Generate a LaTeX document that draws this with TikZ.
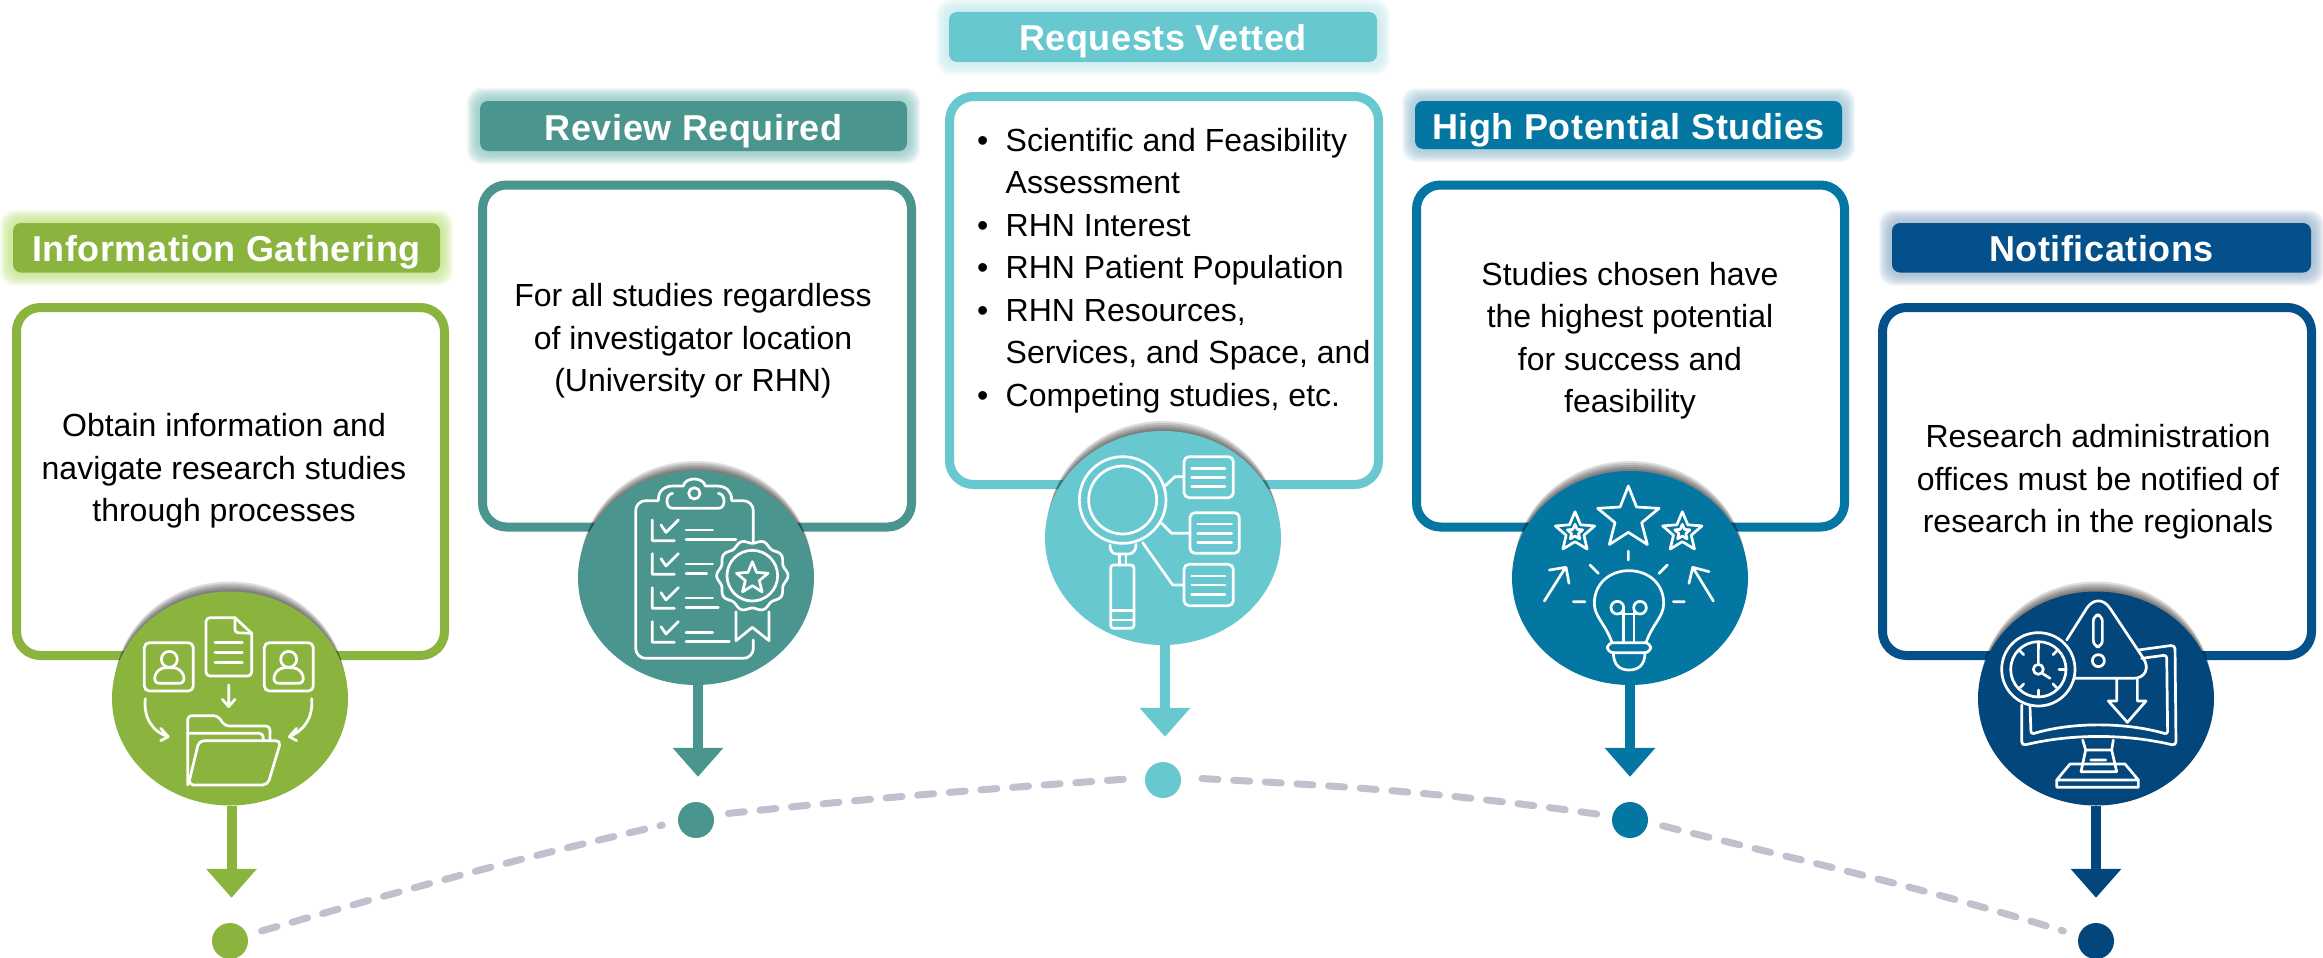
\documentclass[tikz,border=0pt]{standalone}
\usepackage{fontspec}
\setmainfont{Liberation Sans}
\usetikzlibrary{arrows.meta,shapes.geometric}
\definecolor{cgreen}{HTML}{8BB43F}
\definecolor{cteal}{HTML}{4B958F}
\definecolor{ccyan}{HTML}{67C8D0}
\definecolor{cblue}{HTML}{0376A1}
\definecolor{cnavy}{HTML}{03508A}
\definecolor{cnavyb}{HTML}{03467B}
\definecolor{gline}{HTML}{BFC1CE}
\definecolor{ggreen}{HTML}{C4E585}
\definecolor{gteal}{HTML}{8CC8C2}
\definecolor{gcyan}{HTML}{C8EBEF}
\definecolor{gblue}{HTML}{9CC3D6}
\definecolor{gnavy}{HTML}{9AB6CE}
\tikzset{
  titlebar/.style={rounded corners=8pt,inner sep=0pt,text=white,text height=34pt,text depth=6pt,
    font=\fontsize{36pt}{42pt}\selectfont\bfseries\addfontfeatures{LetterSpace=1.6}},
  stepbox/.style={rectangle,rounded corners=24pt,line width=9pt,fill=white,inner sep=0pt},
  bodytext/.style={align=center,inner sep=0pt,text=black,font=\fontsize{32pt}{42.5pt}\selectfont},
  listtext/.style={align=left,inner sep=0pt,text=black,font=\fontsize{32pt}{42.5pt}\selectfont},
  disc/.style={ellipse,inner sep=0pt,minimum width=236pt,minimum height=214pt},
  dotnode/.style={circle,inner sep=0pt,minimum size=36pt},
  drop/.style={-{Triangle[width=49pt,length=29pt]},line width=10pt,shorten >=25pt},
  dashline/.style={draw=gline,line width=7pt,line cap=round,dash pattern=on 16pt off 15.7pt},
  icon/.style={draw=white,line width=2.7pt,line cap=round,line join=round},
  iconarea/.style={x=0.33333pt,y=-0.33333pt}
}
\newcommand{\barglow}[6]{% cx cy w h color name
  \foreach \m in {13,12,...,2}{
    \fill[#5,opacity=.11,rounded corners=14pt] (#1-#3/2-\m,#2-#4/2-\m) rectangle (#1+#3/2+\m,#2+#4/2+\m);
  }
}
\newcommand{\discshadow}[2]{% cx cy
  \foreach \m in {2,4,6,8,10}{
    \fill[black,opacity=.13] (#1,#2-\m) ellipse ({118-\m/4} and {107});
  }
}
\newcommand{\starpath}[4]{%
  \draw[icon] plot[domain=0:360,samples=11] ({#1+(#4+(#3-#4)*(1+cos(5*\x))/2)*sin(\x)},{#2-(#4+(#3-#4)*(1+cos(5*\x))/2)*cos(\x)}) -- cycle;
}
\begin{document}
\begin{tikzpicture}[x=1pt,y=-1pt]
\useasboundingbox (0,0) rectangle (2323,958);
\fill[white] (0,0) rectangle (2323,958);

% dashed arc
\node[dotnode,fill=cgreen] (d1) at (230,941) {};
\node[dotnode,fill=cteal] (d2) at (696,820) {};
\node[dotnode,fill=ccyan] (d3) at (1163,780) {};
\node[dotnode,fill=cblue] (d4) at (1630,820) {};
\node[dotnode,fill=cnavyb] (d5) at (2096,941) {};
\draw[dashline,shorten <=15pt,shorten >=16pt] (d1.19) to[out=16,in=193] (d2.185);
\draw[dashline,shorten <=15pt,shorten >=17pt] (d2.16) to[out=6,in=184] (d3.173);
\draw[dashline,shorten <=21pt,shorten >=15pt] (d3.8) to[out=-3,in=172] (d4.168);
\draw[dashline,shorten <=15pt,shorten >=16pt] (d4.-7) to[out=-14,in=163] (d5.163);

% title bars
\barglow{226.5}{247.75}{427}{49.5}{ggreen}{t1}
\node[titlebar,fill=cgreen,minimum width=427pt,minimum height=49.5pt] (t1) at (226.5,247.75) {Information Gathering};
\barglow{693.5}{126}{427}{50}{gteal}{t2}
\node[titlebar,fill=cteal,minimum width=427pt,minimum height=50pt] (t2) at (693.5,126) {Review Required};
\barglow{1163}{37}{428}{50}{gcyan}{t3}
\node[titlebar,fill=ccyan,minimum width=428pt,minimum height=50pt] (t3) at (1163,37) {Requests Vetted};
\barglow{1628.5}{125}{427}{48}{gblue}{t4}
\node[titlebar,fill=cblue,minimum width=427pt,minimum height=48pt] (t4) at (1628.5,125) {High Potential Studies};
\barglow{2101.5}{247.75}{419}{49.5}{gnavy}{t5}
\node[titlebar,fill=cnavy,minimum width=419pt,minimum height=49.5pt] (t5) at (2101.5,247.75) {Notifications};

% boxes
\node[stepbox,draw=cgreen,minimum width=428pt,minimum height=348pt] (b1) at (230.5,481.5) {};
\node[stepbox,draw=cteal,minimum width=429pt,minimum height=342pt] (b2) at (697,356) {};
\node[stepbox,draw=ccyan,minimum width=429pt,minimum height=388pt] (b3) at (1164,290.5) {};
\node[stepbox,draw=cblue,minimum width=428pt,minimum height=342pt] (b4) at (1630.5,356) {};
\node[stepbox,draw=cnavy,minimum width=429pt,minimum height=348pt] (b5) at (2097,481.5) {};

% texts
\node[bodytext] (x1) at (224,471) {Obtain information and\\navigate research studies\\through processes};
\node[bodytext] (x2) at (693,341) {For all studies regardless\\of investigator location\\(University or RHN)};
\node[listtext,anchor=west] (x3) at (977,270.3) {\makebox[28.5pt][l]{•}Scientific and Feasibility\\\hspace*{28.5pt}Assessment\\\makebox[28.5pt][l]{•}RHN Interest\\\makebox[28.5pt][l]{•}RHN Patient Population\\\makebox[28.5pt][l]{•}RHN Resources,\\\hspace*{28.5pt}Services, and Space, and\\\makebox[28.5pt][l]{•}Competing studies, etc.};
\node[bodytext] (x4) at (1630,340.7) {Studies chosen have\\the highest potential\\for success and\\feasibility};
\node[bodytext] (x5) at (2098,482) {Research administration\\offices must be notified of\\research in the regionals};

% discs
\discshadow{230}{698.5}
\node[disc,fill=cgreen] (c1) at (230,698.5) {};
\discshadow{696}{578}
\node[disc,fill=cteal] (c2) at (696,578) {};
\discshadow{1163}{538}
\node[disc,fill=ccyan] (c3) at (1163,538) {};
\discshadow{1630}{578}
\node[disc,fill=cblue] (c4) at (1630,578) {};
\discshadow{2096}{698.5}
\node[disc,fill=cnavyb] (c5) at (2096,698.5) {};

% arrows
\draw[drop,cgreen] ([xshift=1.5pt]c1.south) -- ([xshift=1.5pt]d1.north);
\draw[drop,cteal] ([xshift=2pt]c2.south) -- ([xshift=2pt]d2.north);
\draw[drop,ccyan] ([xshift=2pt]c3.south) -- ([xshift=2pt]d3.north);
\draw[drop,cblue] (c4.south) -- (d4.north);
\draw[drop,cnavyb] (c5.south) -- (d5.north);

% icon 1: folder
\begin{scope}[shift={(120,600)},iconarea]
\draw[icon,rounded corners=5pt] (73,128) rectangle (220,273);
\draw[icon,rounded corners=5pt] (433,128) rectangle (580,273);
\foreach \cx in {148,506}{
  \draw[icon] (\cx,178) circle (24);
  \draw[icon] (\cx-30,250) .. controls (\cx-55,250) and (\cx-45,205) .. (\cx-12,203) -- (\cx+12,203) .. controls (\cx+45,205) and (\cx+55,250) .. (\cx+30,250) -- cycle;
}
\draw[icon,rounded corners=4pt] (345,53) -- (258,53) -- (258,228) -- (395,228) -- (395,100);
\draw[icon] (345,53) -- (395,100);
\draw[icon,rounded corners=3pt] (345,53) -- (345,98) -- (395,100);
\draw[icon] (285,128) -- (367,128) (285,158) -- (367,158) (285,188) -- (367,188);
\draw[icon] (326,255) -- (326,318) (307,298) -- (326,320) -- (345,298);
\draw[icon] (76,296) .. controls (70,350) and (95,395) .. (145,410) (122,385) -- (145,410) -- (122,422);
\draw[icon] (575,296) .. controls (580,350) and (555,390) .. (508,410) (530,385) -- (508,410) -- (530,422);
\draw[icon,rounded corners=4pt] (203,555) -- (203,347) -- (293,347) -- (315,378) -- (450,378) -- (450,422);
\draw[icon,rounded corners=4pt] (203,400) -- (430,400) -- (430,422);
\draw[icon,rounded corners=5pt] (205,555) -- (237,422) -- (483,422) -- (443,555) -- cycle;
\end{scope}

% icon 2: clipboard
\begin{scope}[shift={(590,470)},iconarea]
\draw[icon,rounded corners=10pt] (490,215) -- (490,92) -- (425,92) (205,92) -- (137,92) -- (137,565) -- (490,565) -- (490,510);
\draw[icon] (205,90) .. controls (205,60) and (225,48) .. (250,48) -- (280,48) .. controls (285,20) and (340,20) .. (346,48) -- (380,48) .. controls (410,48) and (425,65) .. (425,90);
\draw[icon] (248,70) .. controls (225,72) and (225,115) .. (248,115) -- (385,115) .. controls (408,115) and (408,72) .. (385,70);
\draw[icon] (313,70) circle (17);
\foreach \dy in {0,101,203,305}{
  \draw[icon] (187,150+\dy) -- (187,212+\dy) -- (253,212+\dy) (213,165+\dy) -- (228,187+\dy) -- (265,150+\dy);
}
\draw[icon] (288,180) -- (368,180) (288,208) -- (438,208) (288,282) -- (368,282) (288,310) -- (350,310) (288,384) -- (368,384) (288,412) -- (385,412) (288,487) -- (368,487) (288,515) -- (418,515);
\draw[icon,fill=cteal] plot[domain=0:360,samples=121,smooth] ({487+(102+5*cos(10*\x))*cos(\x)},{317+(102+5*cos(10*\x))*sin(\x)}) -- cycle;
\draw[icon] (487,317) circle (76);
\starpath{487}{325}{50}{22}
\draw[icon] (438,425) -- (438,512) -- (487,472) -- (537,512) -- (537,425);
\end{scope}

% icon 3: magnifier
\begin{scope}[shift={(1050,450)},iconarea]
\draw[icon] (218,150) circle (130) (218,150) circle (102);
\draw[icon] (180,285) .. controls (180,305) and (190,312) .. (200,312) -- (235,312) .. controls (250,312) and (258,300) .. (258,283);
\draw[icon] (208,315) -- (208,345) (228,315) -- (228,345);
\draw[icon,rounded corners=3pt] (182,345) rectangle (252,535);
\draw[icon] (182,482) -- (252,482) (182,510) -- (252,510);
\draw[icon] (345,108) -- (375,80) -- (400,80) (335,220) -- (365,250) -- (420,250) (278,278) -- (368,405) -- (400,405);
\draw[icon,rounded corners=5pt] (402,20) rectangle (550,143) (420,188) rectangle (568,310) (402,343) rectangle (550,467);
\draw[icon] (425,55) -- (525,55) (425,82) -- (525,82) (425,110) -- (525,110) (443,222) -- (545,222) (443,250) -- (545,250) (443,277) -- (545,277) (425,378) -- (525,378) (425,405) -- (525,405) (425,433) -- (525,433);
\end{scope}

% icon 4: bulb
\begin{scope}[shift={(1510,470)},iconarea]
\starpath{355}{145}{97}{42}
\starpath{195}{187}{62}{28}
\starpath{195}{187}{24}{11}
\starpath{517}{187}{62}{28}
\starpath{517}{187}{24}{11}
\draw[icon] (355,243) -- (355,270) (240,285) -- (265,310) (472,285) -- (447,310) (190,395) -- (225,395) (490,395) -- (523,395);
\draw[icon] (103,393) -- (165,295) (118,300) -- (168,292) -- (177,340);
\draw[icon] (610,393) -- (550,295) (597,305) -- (548,292) -- (537,340);
\draw[icon] (305,515) .. controls (285,460) and (253,440) .. (253,400) .. controls (253,340) and (300,302) .. (357,302) .. controls (414,302) and (461,340) .. (461,400) .. controls (461,440) and (429,460) .. (409,515);
\draw[icon,rounded corners=6pt] (292,518) rectangle (422,548);
\draw[icon] (310,548) .. controls (310,590) and (335,600) .. (357,600) .. controls (380,600) and (405,590) .. (405,548);
\draw[icon] (340,515) -- (340,415) (372,515) -- (372,415);
\draw[icon] (322,413) circle (19) (390,413) circle (19);
\draw[icon] (322,432) -- (390,432);
\end{scope}

% icon 5: monitor
\begin{scope}[shift={(1975,590)},iconarea]
\draw[icon] (190,238) circle (110) (190,238) circle (83);
\draw[icon] (190,238) circle (15);
\draw[icon] (190,222) -- (190,165) (202,250) -- (225,265);
\foreach \a in {0,45,90,135,225,270,315}{
  \draw[icon] ({190+62*cos(\a)},{238+62*sin(\a)}) -- ({190+78*cos(\a)},{238+78*sin(\a)});
}
\draw[icon] (275,150) -- (335,55) .. controls (355,25) and (385,25) .. (405,55) -- (505,205) .. controls (525,235) and (510,265) .. (475,265) -- (300,265);
\draw[icon,rounded corners=6pt] (355,75) rectangle (382,170);
\draw[icon] (370,212) circle (18);
\draw[icon] (425,265) -- (425,333) -- (400,333) -- (457,397) -- (513,333) -- (487,333) -- (487,265);
\draw[icon,rounded corners=4pt] (490,180) -- (600,165) -- (603,467) .. controls (450,431) and (290,431) .. (140,467) -- (140,345);
\draw[icon,rounded corners=3pt] (500,205) -- (575,195) -- (578,433) .. controls (450,396) and (290,396) .. (168,433) -- (165,350);
\draw[icon] (323,450) -- (332,480) -- (318,545) (415,450) -- (410,480) -- (425,545) (332,480) -- (410,480) (347,510) -- (392,510) (318,545) -- (425,545);
\draw[icon] (285,522) -- (245,570) -- (245,592) -- (490,592) -- (490,570) -- (450,522) -- (285,522) (245,570) -- (490,570);
\end{scope}
\end{tikzpicture}
\end{document}
